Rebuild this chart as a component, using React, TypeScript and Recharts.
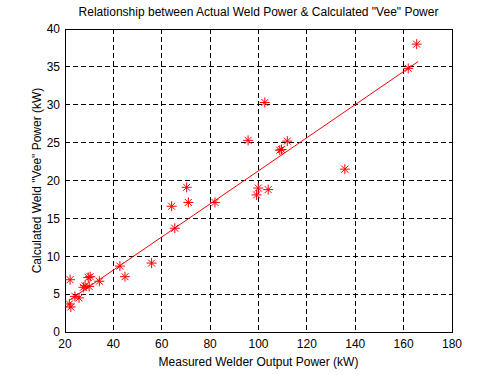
import { CartesianGrid, Label, ReferenceArea, Scatter, ScatterChart, XAxis, YAxis } from 'recharts'

// measured welder output power (kW)
const measuredPower = [
  22.1, 21.8, 22.4, 24.1, 25.8, 27.6, 28.3, 29.6, 30.4, 30.0, 34.2, 42.7, 44.8, 55.8, 64.1, 65.4,
  70.3, 71.0, 82.0, 95.7, 99.2, 99.9, 104.0, 102.6, 108.8, 109.5, 111.9, 135.7, 161.9, 165.4,
]
// calculated "vee" power (kW)
const veePower = [
  6.9, 3.7, 3.3, 4.7, 4.5, 5.9, 6.1, 7.2, 7.3, 6.0, 6.7, 8.7, 7.3, 9.1, 16.6, 13.7,
  19.1, 17.1, 17.1, 25.3, 18.1, 19.0, 18.8, 30.3, 24.0, 24.1, 25.2, 21.5, 34.8, 38.0,
]
// linear fit end points
const fitX = [21.8, 166]
const fitY = [4.2, 35.7]

const xTicks = [20, 40, 60, 80, 100, 120, 140, 160, 180]
const yTicks = [0, 5, 10, 15, 20, 25, 30, 35, 40]

const points = measuredPower.map((x, i) => ({ x, y: veePower[i] }))
const fitLine = fitX.map((x, i) => ({ x, y: fitY[i] }))

const font = '"Liberation Sans", Arial, sans-serif'

const Asterisk = (props: any) => {
  const { cx, cy } = props
  const r = 5
  const d = 3.5
  return (
    <g stroke="#ff0000" strokeWidth={1}>
      <line x1={cx - r} y1={cy} x2={cx + r} y2={cy} />
      <line x1={cx} y1={cy - r} x2={cx} y2={cy + r} />
      <line x1={cx - d} y1={cy - d} x2={cx + d} y2={cy + d} />
      <line x1={cx - d} y1={cy + d} x2={cx + d} y2={cy - d} />
    </g>
  )
}

export default function App() {
  return (
    <div style={{ position: 'absolute', left: 0, top: 0, width: 500, height: 375, background: '#fff', fontFamily: font }}>
      <div
        style={{
          position: 'absolute',
          left: 65,
          top: 5,
          width: 387,
          textAlign: 'center',
          fontSize: 12,
          lineHeight: '14px',
          whiteSpace: 'nowrap',
          color: '#000',
        }}
      >
        Relationship between Actual Weld Power &amp; Calculated "Vee" Power
      </div>
      <ScatterChart width={500} height={375} margin={{ top: 29, right: 48, bottom: 0, left: 0 }}>
        <CartesianGrid stroke="#000" strokeDasharray="5 3" shapeRendering="crispEdges" />
        <XAxis
          type="number"
          dataKey="x"
          domain={[20, 180]}
          ticks={xTicks}
          height={43}
          tickSize={0}
          tickMargin={7}
          tickLine={false}
          axisLine={{ stroke: '#000', shapeRendering: 'crispEdges' }}
          tick={{ fill: '#000', fontSize: 12, fontFamily: font }}
          allowDataOverflow
        >
          <Label
            value="Measured Welder Output Power (kW)"
            position="insideBottom"
            offset={9}
            style={{ fill: '#000', fontSize: 12, fontFamily: font }}
          />
        </XAxis>
        <YAxis
          type="number"
          dataKey="y"
          domain={[0, 40]}
          ticks={yTicks}
          width={65}
          tickSize={0}
          tickMargin={5}
          tickLine={false}
          axisLine={{ stroke: '#000', shapeRendering: 'crispEdges' }}
          tick={{ fill: '#000', fontSize: 12, fontFamily: font }}
          allowDataOverflow
        >
          <Label
            content={(p: any) => {
              const vb = p.viewBox
              const cy = vb.y + vb.height / 2
              return (
                <text
                  x={37}
                  y={cy}
                  transform={`rotate(-90, 37, ${cy})`}
                  textAnchor="middle"
                  dominantBaseline="central"
                  style={{ fill: '#000', fontSize: 12, fontFamily: font }}
                >
                  Calculated Weld "Vee" Power (kW)
                </text>
              )
            }}
          />
        </YAxis>
        <ReferenceArea
          x1={20}
          x2={180}
          y1={0}
          y2={40}
          fill="none"
          stroke="#000"
          strokeWidth={1}
          shapeRendering="crispEdges"
        />
        <Scatter
          data={fitLine}
          line={{ stroke: '#ff0000', strokeWidth: 1 }}
          shape={() => null}
          isAnimationActive={false}
        />
        <Scatter data={points} shape={Asterisk} isAnimationActive={false} />
      </ScatterChart>
    </div>
  )
}
